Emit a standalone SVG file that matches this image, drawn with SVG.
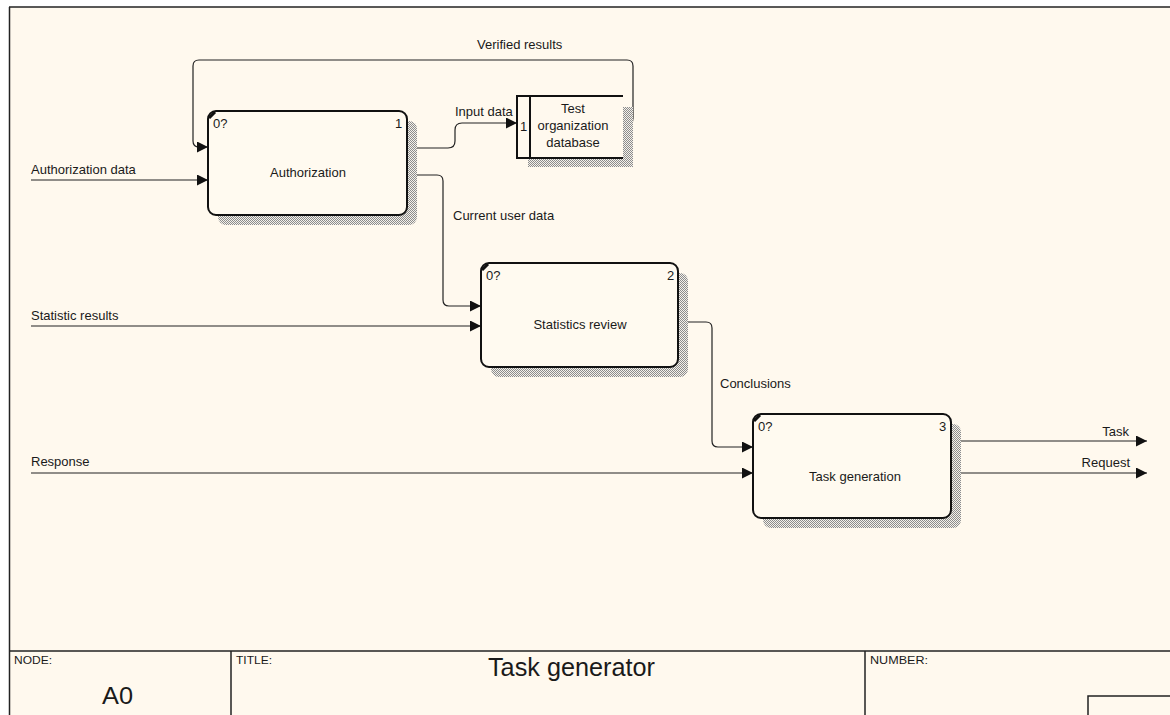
<svg xmlns="http://www.w3.org/2000/svg" width="1170" height="715" viewBox="0 0 1170 715">
  <style>
    text { font-family: "Liberation Sans", Arial, sans-serif; fill: #1a1a1a; }
    .lbl { font-size: 13px; }
    .num { font-size: 13px; }
    .box { fill: #fffaf0; stroke: #111; stroke-width: 2; }
    .shadow { fill: url(#hatch); }
    .wire { fill: none; stroke: #222; stroke-width: 1.2; }
    .frame { fill: none; stroke: #222; stroke-width: 1.5; }
    .small { font-size: 11px; }
  </style>
  <defs>
    <pattern id="hatch" width="2" height="2" patternUnits="userSpaceOnUse">
      <rect width="2" height="2" fill="#f4f1ea"/>
      <rect width="1" height="1" fill="#8c8c8c"/>
      <rect x="1" y="1" width="1" height="1" fill="#8c8c8c"/>
    </pattern>
    <marker id="arrow" viewBox="0 0 10 10" refX="10" refY="5" markerWidth="11" markerHeight="11" markerUnits="userSpaceOnUse" orient="auto">
      <path d="M0,0 L10,5 L0,10 z" fill="#111"/>
    </marker>
  </defs>

  <!-- page -->
  <rect x="0" y="0" width="1170" height="715" fill="#ffffff"/>
  <rect x="10" y="7" width="1160" height="708" fill="#fff9ee"/>
  <g id="frame">
    <line class="frame" x1="9" y1="7" x2="1170" y2="7"/>
    <line class="frame" x1="9.5" y1="7" x2="9.5" y2="715"/>
    <line class="frame" x1="10" y1="651" x2="1170" y2="651"/>
    <line class="frame" x1="231" y1="651" x2="231" y2="715"/>
    <line class="frame" x1="865" y1="651" x2="865" y2="715"/>
    <path class="frame" d="M1088,715 V696 H1170"/>
    <text x="14" y="664" class="small" textLength="38" lengthAdjust="spacingAndGlyphs">NODE:</text>
    <text x="102" y="704" font-size="24" textLength="31" lengthAdjust="spacingAndGlyphs">A0</text>
    <text x="236" y="664" class="small" textLength="36" lengthAdjust="spacingAndGlyphs">TITLE:</text>
    <text x="488" y="676" font-size="25" textLength="167" lengthAdjust="spacingAndGlyphs">Task generator</text>
    <text x="870" y="664" class="small" textLength="58" lengthAdjust="spacingAndGlyphs">NUMBER:</text>
  </g>

  <!-- connectors -->
  <g id="connectors">
    <path class="wire" d="M31,180 H208" marker-end="url(#arrow)"/>
    <text class="lbl" x="31" y="174">Authorization data</text>

    <path class="wire" d="M624,127 Q633,127 633,118 V66 Q633,60 627,60 H199 Q193,60 193,66 V141 Q193,147 199,147 H208" marker-end="url(#arrow)"/>
    <text class="lbl" x="477" y="49">Verified results</text>

    <path class="wire" d="M407,148 H448 Q455,148 455,141 V130 Q455,123 462,123 H517" marker-end="url(#arrow)"/>
    <text class="lbl" x="455" y="116">Input data</text>

    <path class="wire" d="M407,175 H437 Q443,175 443,181 V300 Q443,306 449,306 H481" marker-end="url(#arrow)"/>
    <text class="lbl" x="453" y="220">Current user data</text>

    <path class="wire" d="M31,326 H481" marker-end="url(#arrow)"/>
    <text class="lbl" x="31" y="320">Statistic results</text>

    <path class="wire" d="M678,322 H706 Q712,322 712,328 V441 Q712,447 718,447 H753" marker-end="url(#arrow)"/>
    <text class="lbl" x="720" y="388">Conclusions</text>

    <path class="wire" d="M31,473 H753" marker-end="url(#arrow)"/>
    <text class="lbl" x="31" y="466">Response</text>

    <path class="wire" d="M951,441 H1147" marker-end="url(#arrow)"/>
    <text class="lbl" x="1129" y="436" text-anchor="end">Task</text>

    <path class="wire" d="M951,473 H1147" marker-end="url(#arrow)"/>
    <text class="lbl" x="1130" y="467" text-anchor="end">Request</text>
  </g>

  <!-- activity 1 -->
  <g id="node-authorization">
    <rect class="shadow" x="218" y="121" width="199" height="104" rx="8"/>
    <rect class="box" x="208" y="111" width="199" height="104" rx="8"/>
    <line x1="209" y1="118" x2="215" y2="112" stroke="#111" stroke-width="3"/>
    <text class="num" x="213" y="128">0?</text>
    <text class="num" x="395" y="128">1</text>
    <text class="lbl" x="308" y="177" text-anchor="middle">Authorization</text>
  </g>

  <!-- data store -->
  <g id="store-test-organization-database">
    <rect class="shadow" x="528" y="107" width="105" height="60"/>
    <rect x="517" y="96" width="106" height="62" fill="#fff9ee"/>
    <path d="M623,96 H517 V158 H623 M530,96 V158" fill="none" stroke="#111" stroke-width="2"/>
    <text class="num" x="520" y="131">1</text>
    <text class="lbl" x="573" y="113" text-anchor="middle">Test</text>
    <text class="lbl" x="573" y="130" text-anchor="middle">organization</text>
    <text class="lbl" x="573" y="147" text-anchor="middle">database</text>
  </g>

  <!-- activity 2 -->
  <g id="node-statistics-review">
    <rect class="shadow" x="491" y="273" width="197" height="104" rx="8"/>
    <rect class="box" x="481" y="263" width="197" height="104" rx="8"/>
    <line x1="482" y1="270" x2="488" y2="264" stroke="#111" stroke-width="3"/>
    <text class="num" x="486" y="280">0?</text>
    <text class="num" x="667" y="280">2</text>
    <text class="lbl" x="580" y="329" text-anchor="middle">Statistics review</text>
  </g>

  <!-- activity 3 -->
  <g id="node-task-generation">
    <rect class="shadow" x="763" y="424" width="198" height="104" rx="8"/>
    <rect class="box" x="753" y="414" width="198" height="104" rx="8"/>
    <line x1="754" y1="421" x2="760" y2="415" stroke="#111" stroke-width="3"/>
    <text class="num" x="758" y="431">0?</text>
    <text class="num" x="939" y="431">3</text>
    <text class="lbl" x="855" y="481" text-anchor="middle">Task generation</text>
  </g>
</svg>
